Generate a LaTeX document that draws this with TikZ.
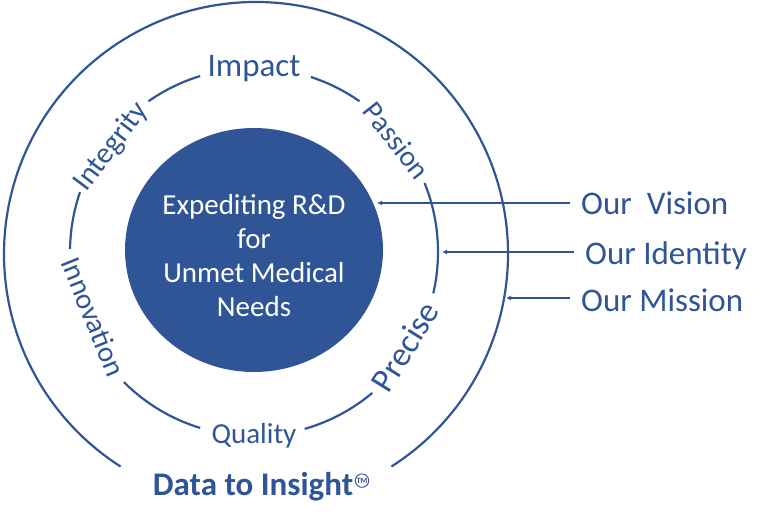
\documentclass[tikz,border=0pt]{standalone}
\usepackage{fontspec}
\setmainfont{Carlito}
\usetikzlibrary{positioning}
\usetikzlibrary{arrows.meta}
\definecolor{d2i-blue}{RGB}{47,85,151}

\begin{document}
\begin{tikzpicture}[x=1pt, y=1pt,
ring/.style={d2i-blue, line width=2.2pt},
value/.style={text=d2i-blue, inner sep=0pt, font=\fontsize{29}{29}\selectfont},
side/.style={text=d2i-blue, inner sep=0pt, anchor=base west, font=\fontsize{33}{33}\selectfont},
arr/.style={d2i-blue, line width=1.5pt, -{Latex[length=5pt,width=5pt]}}]
\useasboundingbox (-254,252) rectangle (514,-272);

% outer ring, open at the bottom
\draw[ring] (2,-2) ++(-57.5:252) arc[start angle=-57.5, end angle=237.5, radius=252];

% middle ring, broken for the values
\foreach \a/\b in {-13/22, 55/72, 107/125, 161/179, 225/253, 286/310}
  \draw[ring] (\a:184) arc[start angle=\a, end angle=\b, radius=184];

% inner disc
\fill[d2i-blue] (0,2) ellipse[x radius=129, y radius=122];
\node[text=white, align=center, inner sep=0pt, font=\fontsize{29}{34}\selectfont] (core) at (0,-4)
  {Expediting R\&D\\for\\Unmet Medical\\Needs};

% values on the middle ring
\node[value, font=\fontsize{33}{33}\selectfont] (impact) at (90:183) {Impact};
\node[value, rotate=-52] (passion) at (38:181) {Passion};
\node[value, rotate=53, font=\fontsize{30}{30}\selectfont] (integrity) at (143.5:177) {Integrity};
\node[value, rotate=-68] (innovation) at (202:173) {Innovation};
\node[value] (quality) at (270:184) {Quality};
\node[value, rotate=58, font=\fontsize{34}{34}\selectfont] (precise) at (-32:178) {Precise};

% labels on the right
\node[side] (vision) at (327,37) {Our\ \ Vision};
\node[side] (identity) at (331,-13) {Our Identity};
\node[side] (mission) at (327,-60) {Our Mission};

% arrow ends
\coordinate (core-rim) at (123,49);
\coordinate (values-rim) at (188,0);
\coordinate (outer-rim) at (252,-46);

\draw[arr] ([xshift=-11pt]vision.west |- core-rim) -- (core-rim);
\draw[arr] ([xshift=-11pt]identity.west |- values-rim) -- (values-rim);
\draw[arr] ([xshift=-11pt]mission.west |- outer-rim) -- (outer-rim);

% motto
\node[anchor=base, text=d2i-blue, inner sep=0pt, font=\fontsize{33}{33}\selectfont\bfseries] (motto) at (-1,-243) {Data to Insight};
\node[circle, draw=d2i-blue, line width=0.9pt, inner sep=0.5pt, text=d2i-blue, anchor=west,
  font=\fontsize{8}{8}\selectfont\bfseries] (tm) at ([xshift=1.5pt,yshift=-9pt]motto.north east) {TM};

\end{tikzpicture}
\end{document}
